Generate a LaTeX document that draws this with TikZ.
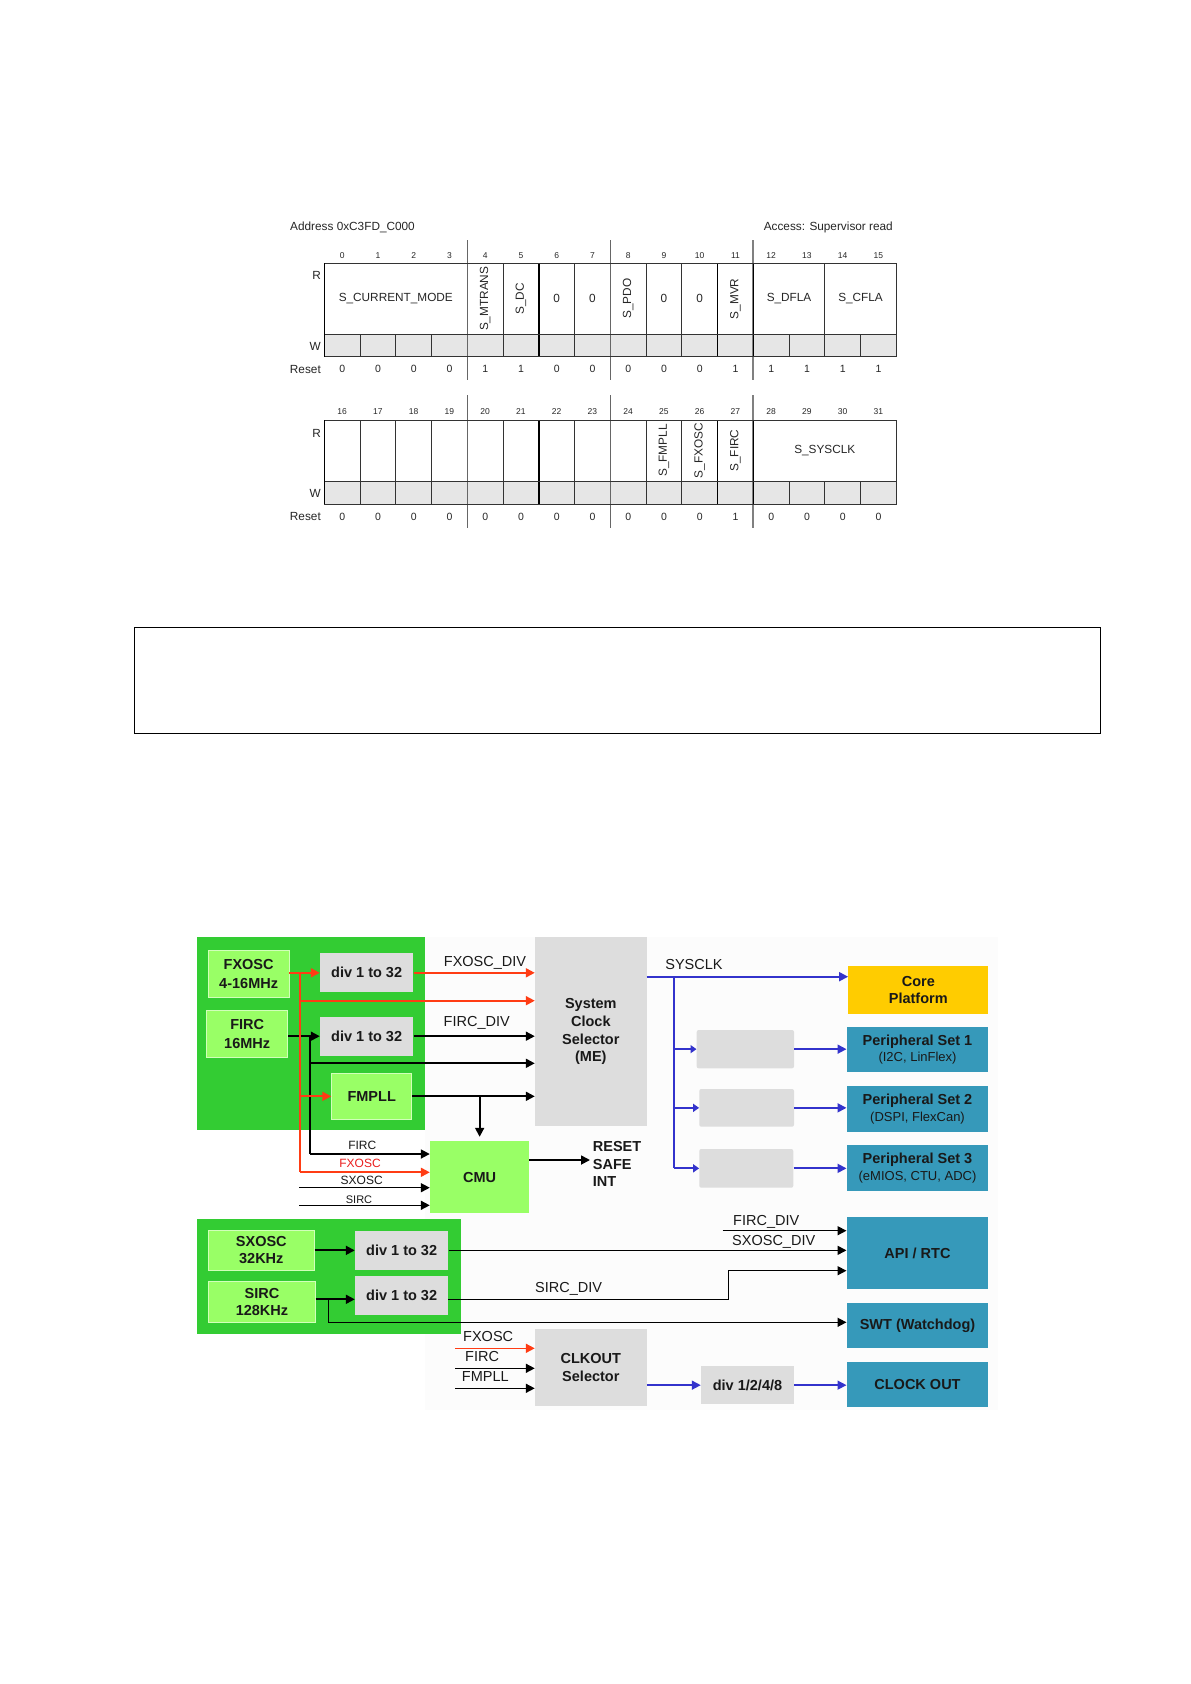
\documentclass[tikz,border=0pt]{standalone}
\usepackage{fontspec}
\setmainfont{Liberation Sans}
\usetikzlibrary{arrows.meta}
\definecolor{grpgreen}{RGB}{51,204,51}
\definecolor{lgreen}{RGB}{153,255,102}
\definecolor{boxgray}{RGB}{221,221,221}
\definecolor{tealb}{RGB}{54,153,186}
\definecolor{coreyel}{RGB}{255,204,0}
\definecolor{redo}{RGB}{255,60,20}
\definecolor{redt}{RGB}{235,30,30}
\definecolor{blueb}{RGB}{51,51,204}
\definecolor{wgray}{RGB}{230,230,230}
\begin{document}
\begin{tikzpicture}[x=1pt,y=-1pt,
  rt/.style={font=\fontsize{11.8}{14}\selectfont, text=black!85, inner sep=0pt},
  bitn/.style={font=\fontsize{8.5}{10}\selectfont, text=black!85, inner sep=0pt},
  rsv/.style={font=\fontsize{10.5}{12}\selectfont, text=black!85, inner sep=0pt},
  thinl/.style={draw=black!80, line width=0.7},
  grpl/.style={draw=black!60, line width=0.8},
  grpthick/.style={draw=black!50, line width=2},
  thickl/.style={draw=black, line width=1.5},
  blk/.style={font=\fontsize{14.5}{17.6}\selectfont\bfseries, align=center, inner sep=0pt, text=black!90},
  lbl/.style={font=\fontsize{14.5}{17}\selectfont, inner sep=0pt, text=black!90},
  sl/.style={font=\fontsize{12}{14}\selectfont, inner sep=0pt, text=black!90},
  lgbox/.style={blk, fill=lgreen, draw=lgreen!45!white, line width=0.8},
  gbox/.style={blk, fill=boxgray},
  tbox/.style={blk, fill=tealb},
  ar/.style={-{Triangle[length=9pt,width=9pt]}, line width=1.8},
  arb/.style={ar, draw=blueb},
  arr/.style={ar, draw=redo},
  thinar/.style={-{Triangle[length=9pt,width=9pt]}, line width=1.5}
]
\useasboundingbox (0,0) rectangle (1191,1684);
\fill[white] (0,0) rectangle (1191,1684);

% ================= Register table 1 =================
\def\xa{324.3}\def\cw{35.75}
\node[rt, anchor=west] (addr) at (290,227) {Address 0xC3FD\_C000};
\node[rt, anchor=east] (acc) at (893,227) {Access: Supervisor read};
\fill[wgray] (\xa,334.3) rectangle ({\xa+16*\cw},356.7);
\foreach \i in {1,...,15} \draw[thinl] ({\xa+\i*\cw},334.3) -- ({\xa+\i*\cw},356.7);
\foreach \i in {5,7,9,10,14} \draw[thinl] ({\xa+\i*\cw},263.3) -- ({\xa+\i*\cw},334.3);
\foreach \i in {4,8} \draw[grpl] ({\xa+\i*\cw},240) -- ({\xa+\i*\cw},380);
\draw[grpthick] ({\xa+12*\cw},240) -- ({\xa+12*\cw},380);
\foreach \i in {6,11,12} \draw[thickl] ({\xa+\i*\cw},263.3) -- ({\xa+\i*\cw},356.7);
\draw[thinl] (\xa,263.3) -- ({\xa+16*\cw},263.3) -- ({\xa+16*\cw},356.7) -- (\xa,356.7);
\draw[thinl] (\xa,334.3) -- ({\xa+16*\cw},334.3);
\draw[thickl] (\xa,263.3) -- (\xa,356.7);
\foreach \i in {0,...,15} \node[bitn] (ra\i) at ({\xa+(\i+0.5)*\cw},255.7) {\i};
\foreach \v [count=\i from 0] in {0,0,0,0,1,1,0,0,0,0,0,1,1,1,1,1}
  \node[rsv] (rra\i) at ({\xa+(\i+0.5)*\cw},369.3) {\v};
\node[rt, anchor=east] (rRa) at (321,275.7) {R};
\node[rt, anchor=east] (rWa) at (321,346) {W};
\node[rt, anchor=east] (rSa) at (321,369.3) {Reset};
\node[rt] (fcm) at ({\xa+2*\cw},298.8) {S\_CURRENT\_MODE};
\node[rt, rotate=90] (fmt) at ({\xa+4.5*\cw},298.8) {S\_MTRANS};
\node[rt, rotate=90] (fdc) at ({\xa+5.5*\cw},298.8) {S\_DC};
\node[rt] (fz6) at ({\xa+6.5*\cw},298.8) {0};
\node[rt] (fz7) at ({\xa+7.5*\cw},298.8) {0};
\node[rt, rotate=90] (fpdo) at ({\xa+8.5*\cw},298.8) {S\_PDO};
\node[rt] (fz9) at ({\xa+9.5*\cw},298.8) {0};
\node[rt] (fz10) at ({\xa+10.5*\cw},298.8) {0};
\node[rt, rotate=90] (fmvr) at ({\xa+11.5*\cw},298.8) {S\_MVR};
\node[rt] (fdfla) at ({\xa+13*\cw},298.8) {S\_DFLA};
\node[rt] (fcfla) at ({\xa+15*\cw},298.8) {S\_CFLA};

% ================= Register table 2 =================
\fill[wgray] (\xa,481) rectangle ({\xa+16*\cw},504.3);
\foreach \i in {1,...,15} \draw[thinl] ({\xa+\i*\cw},481) -- ({\xa+\i*\cw},504.3);
\foreach \i in {1,2,3,5,7,9,10} \draw[thinl] ({\xa+\i*\cw},420) -- ({\xa+\i*\cw},481);
\foreach \i in {4,8} \draw[grpl] ({\xa+\i*\cw},395) -- ({\xa+\i*\cw},528);
\draw[grpthick] ({\xa+12*\cw},395) -- ({\xa+12*\cw},528);
\foreach \i in {6,11,12} \draw[thickl] ({\xa+\i*\cw},420) -- ({\xa+\i*\cw},504.3);
\draw[thinl] (\xa,420) -- ({\xa+16*\cw},420) -- ({\xa+16*\cw},504.3) -- (\xa,504.3);
\draw[thinl] (\xa,481) -- ({\xa+16*\cw},481);
\draw[thickl] (\xa,420) -- (\xa,504.3);
\foreach \i in {16,...,31} \node[bitn] (rb\i) at ({\xa+(\i-15.5)*\cw},412) {\i};
\foreach \v [count=\i from 0] in {0,0,0,0,0,0,0,0,0,0,0,1,0,0,0,0}
  \node[rsv] (rrb\i) at ({\xa+(\i+0.5)*\cw},516.7) {\v};
\node[rt, anchor=east] (rRb) at (321,433) {R};
\node[rt, anchor=east] (rWb) at (321,493) {W};
\node[rt, anchor=east] (rSb) at (321,516.7) {Reset};
\node[rt, rotate=90] (ffmpll) at ({\xa+9.5*\cw},450.5) {S\_FMPLL};
\node[rt, rotate=90] (ffxosc) at ({\xa+10.5*\cw},450.5) {S\_FXOSC};
\node[rt, rotate=90] (ffirc) at ({\xa+11.5*\cw},450.5) {S\_FIRC};
\node[rt] (fsys) at ({\xa+14*\cw},450.5) {S\_SYSCLK};

% ================= Empty frame =================
\node[draw, line width=1, minimum width=966.5, minimum height=106, inner sep=0] (frame) at (617.25,680.5) {};

% ================= Clock diagram =================
\fill[black!1] (425,937) rectangle (998,1410);
\node[fill=grpgreen, minimum width=228.3, minimum height=192.7, inner sep=0] (grpA) at (310.85,1033.65) {};
\node[fill=grpgreen, minimum width=263.4, minimum height=114.7, inner sep=0] (grpB) at (329,1276.65) {};

\node[lgbox, minimum width=80.7, minimum height=47, font=\fontsize{14.5}{19}\selectfont\bfseries] (fxosc) at (248.65,974.2) {FXOSC\\4-16MHz};
\node[lgbox, minimum width=81, minimum height=47.7, font=\fontsize{14.5}{19}\selectfont\bfseries] (firc) at (247.2,1033.85) {FIRC\\16MHz};
\node[gbox, minimum width=93.3, minimum height=39] (diva) at (366.65,972.8) {div 1 to 32};
\node[gbox, minimum width=93.3, minimum height=39] (divb) at (366.65,1036.2) {div 1 to 32};
\node[lgbox, minimum width=80, minimum height=46] (fmpll) at (371.7,1096.3) {FMPLL};
\node[gbox, minimum width=111.7, minimum height=188.7] (scs) at (590.85,1031.65) {System\\Clock\\Selector\\(ME)};
\node[blk, fill=lgreen, minimum width=99.3, minimum height=72.3] (cmu) at (479.65,1177.15) {CMU};
\node[blk, fill=coreyel, minimum width=140, minimum height=48.3] (core) at (918.3,990.15) {Core\\Platform};
\node[tbox, minimum width=141.6, minimum height=45, font=\fontsize{14.5}{16.5}\selectfont\bfseries] (ps1) at (917.5,1049.8) {Peripheral Set 1\\{\mdseries\fontsize{13}{15}\selectfont (I2C, LinFlex)}};
\node[tbox, minimum width=141.6, minimum height=45.7, font=\fontsize{14.5}{16.5}\selectfont\bfseries] (ps2) at (917.5,1108.85) {Peripheral Set 2\\{\mdseries\fontsize{13}{15}\selectfont (DSPI, FlexCan)}};
\node[tbox, minimum width=141.6, minimum height=45.7, font=\fontsize{14.5}{16.5}\selectfont\bfseries] (ps3) at (917.5,1167.85) {Peripheral Set 3\\{\mdseries\fontsize{13}{15}\selectfont (eMIOS, CTU, ADC)}};
\node[gbox, rounded corners=2, minimum width=97.3, minimum height=38.3] (g1) at (745.35,1049.15) {};
\node[gbox, rounded corners=2, minimum width=94.7, minimum height=37.7] (g2) at (746.65,1107.85) {};
\node[gbox, rounded corners=2, minimum width=94, minimum height=38.7] (g3) at (746.3,1168.35) {};

\node[lgbox, minimum width=106, minimum height=40, font=\fontsize{14.5}{17}\selectfont\bfseries] (sxosc) at (261.3,1250) {SXOSC\\32KHz};
\node[lgbox, minimum width=107.4, minimum height=41.3, font=\fontsize{14.5}{17}\selectfont\bfseries] (sirc) at (262,1301.65) {SIRC\\128KHz};
\node[gbox, minimum width=93.3, minimum height=39.3] (divc) at (401.65,1250.35) {div 1 to 32};
\node[gbox, minimum width=93.3, minimum height=39.3] (divd) at (401.65,1295.35) {div 1 to 32};
\node[tbox, minimum width=141.6, minimum height=72] (api) at (917.5,1253.3) {API / RTC};
\node[tbox, minimum width=141.6, minimum height=45] (swt) at (917.5,1325.8) {SWT (Watchdog)};
\node[tbox, minimum width=141.6, minimum height=45] (cko) at (917.5,1384.8) {CLOCK OUT};
\node[gbox, minimum width=111.7, minimum height=76.4] (cksel) at (590.85,1367.5) {CLKOUT\\Selector};
\node[gbox, minimum width=93, minimum height=38.3] (d1248) at (747.5,1385.15) {div 1/2/4/8};

% RESET SAFE INT
\node[blk, anchor=base west] (trst) at (592.7,1151.7) {RESET};
\node[blk, anchor=base west] (tsafe) at (592.7,1169.3) {SAFE};
\node[blk, anchor=base west] (tint) at (592.7,1186.7) {INT};

% labels
\node[lbl, anchor=base] (lfxd) at (485,966.7) {FXOSC\_DIV};
\node[lbl, anchor=base] (lfid) at (476.7,1026) {FIRC\_DIV};
\node[lbl, anchor=base] (lsys) at (694,969) {SYSCLK};
\node[sl, anchor=base] (lcf) at (362.3,1149.3) {FIRC};
\node[sl, anchor=base, text=redt] (lcx) at (360,1167.3) {FXOSC};
\node[sl, anchor=base] (lcs) at (361.7,1184) {SXOSC};
\node[sl, anchor=base, font=\fontsize{11}{13}\selectfont] (lci) at (359,1203.3) {SIRC};
\node[lbl, anchor=base west] (lfd2) at (733,1225.7) {FIRC\_DIV};
\node[lbl, anchor=base west] (lsxd) at (732,1245) {SXOSC\_DIV};
\node[lbl, anchor=base west] (lsid) at (535,1292.7) {SIRC\_DIV};
\node[lbl, anchor=base west] (lkx) at (463,1341) {FXOSC};
\node[lbl, anchor=base west] (lkf) at (465,1361) {FIRC};
\node[lbl, anchor=base west] (lkp) at (461.7,1381.7) {FMPLL};

% junction coordinates
\coordinate (rtop) at (300,972.8);
\coordinate (rmid) at (300,1000.7);
\coordinate (rbot) at (300,1172.3);
\coordinate (btop) at (310,1036.2);
\coordinate (bmid) at (310,1063.3);
\coordinate (bbot) at (310,1154);
\coordinate (sxin) at (299.3,1187.7);
\coordinate (siin) at (299.3,1205.3);
\coordinate (cmuo) at (529.3,1160);
\coordinate (rsin) at (590,1160);
\coordinate (sysj) at (646.7,976.7);
\coordinate (sysv) at (674,976.7);
\coordinate (fdst) at (722.7,1230.7);
\coordinate (sdj) at (728.3,1299.3);
\coordinate (sdo) at (448.3,1299.3);
\coordinate (sdu) at (728.3,1270.7);
\coordinate (sirj) at (315.7,1299.3);
\coordinate (sirv) at (328.3,1299.3);
\coordinate (swtl) at (328.3,1322.3);
\coordinate (kx) at (455,1348.3);
\coordinate (kf) at (455,1368.3);
\coordinate (kp) at (455,1388.3);

% black connectors (upper)
\draw[ar] (firc.east |- divb.west) -- (divb.west);
\draw[ar] (divb.east) -- (divb.east -| scs.west);
\draw[line width=1.8] (btop) -- (bbot);
\draw[ar] (bbot) -- (bbot -| cmu.west);
\draw[ar] (bmid) -- (bmid -| scs.west);
\draw[ar] (fmpll.east) -- (fmpll.east -| scs.west);
\draw[ar] (cmu.north |- fmpll.east) -- ([yshift=4]cmu.north);
\draw[thinar] (sxin) -- (sxin -| cmu.west);
\draw[thinar] (siin) -- (siin -| cmu.west);
\draw[ar] (cmuo) -- (rsin);

% red connectors
\draw[arr] (fxosc.east |- diva.west) -- (diva.west);
\draw[arr] (diva.east) -- (diva.east -| scs.west);
\draw[redo, line width=1.8] (rtop) -- (rbot);
\draw[arr] (rmid) -- (rmid -| scs.west);
\draw[arr] (rmid |- fmpll.west) -- (fmpll.west);
\draw[arr] (rbot) -- (rbot -| cmu.west);

% blue connectors
\draw[arb] (sysj) -- (sysj -| core.west);
\draw[blueb, line width=1.8] (sysv) -- (sysv |- g3.west);
\draw[arb, -{Triangle[length=6pt,width=8pt]}] (sysv |- g1.west) -- (g1.west);
\draw[arb, -{Triangle[length=6pt,width=8pt]}] (sysv |- g2.west) -- (g2.west);
\draw[arb, -{Triangle[length=6pt,width=8pt]}] (sysv |- g3.west) -- (g3.west);
\draw[arb] (g1.east) -- (g1.east -| ps1.west);
\draw[arb] (g2.east) -- (g2.east -| ps2.west);
\draw[arb] (g3.east) -- (g3.east -| ps3.west);

% lower connectors
\draw[ar] (sxosc.east |- divc.west) -- (divc.west);
\draw[ar] (sirj) -- (sirj -| divd.west);
\draw[thinar] (divc.east) -- (divc.east -| api.west);
\draw[thinar] (fdst) -- (fdst -| api.west);
\draw[thinar] (sdo) -- (sdj) -- (sdu) -- (sdu -| api.west);
\draw[thinar] (sirv) -- (swtl) -- (swtl -| swt.west);

% CLKOUT connectors
\draw[arr, line width=1.6] (kx) -- (kx -| cksel.west);
\draw[thinar] (kf) -- (kf -| cksel.west);
\draw[thinar] (kp) -- (kp -| cksel.west);
\draw[arb, line width=1.5] (cksel.east |- d1248.west) -- (d1248.west);
\draw[arb, line width=1.5] (d1248.east) -- (d1248.east -| cko.west);
\end{tikzpicture}
\end{document}
